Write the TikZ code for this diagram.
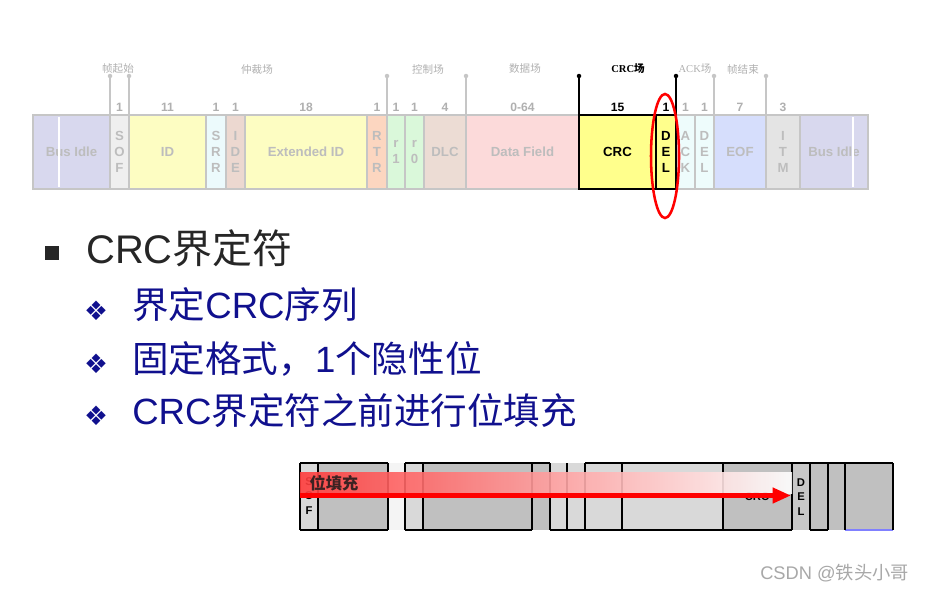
\documentclass[tikz,border=0pt]{standalone}
\usepackage{fontspec}
\setmainfont{Liberation Sans}
\newfontfamily\cjk{Noto Sans CJK SC}
\newfontfamily\symf{DejaVu Sans}
\newfontfamily\lserif{Liberation Serif}
\usetikzlibrary{positioning,shapes.geometric,arrows.meta}

\definecolor{idlec}{HTML}{D8D8EE}
\definecolor{sofc}{HTML}{EFEFEF}
\definecolor{idc}{HTML}{FDFDC2}
\definecolor{srrc}{HTML}{ECFAFC}
\definecolor{idec}{HTML}{ECD8D0}
\definecolor{rtrc}{HTML}{FCD6C0}
\definecolor{rc}{HTML}{DAF8DA}
\definecolor{dlcc}{HTML}{ECDCD4}
\definecolor{datac}{HTML}{FCDADA}
\definecolor{crcc}{HTML}{FFFF8C}
\definecolor{ackc}{HTML}{EEFCFC}
\definecolor{eofc}{HTML}{D6DEFC}
\definecolor{itmc}{HTML}{E4E4E4}
\definecolor{fldline}{HTML}{C6C6C6}
\definecolor{fldtext}{HTML}{BDBDBD}
\definecolor{grpc}{HTML}{B0B0B0}
\definecolor{headc}{HTML}{262626}
\definecolor{navy}{HTML}{10108E}
\definecolor{ltc}{HTML}{D9D9D9}
\definecolor{dkc}{HTML}{C0C0C0}
\definecolor{delc}{HTML}{C8C8C8}
\definecolor{paper}{HTML}{F4F4F4}
\definecolor{bandl}{HTML}{FF3C3C}
\definecolor{wmc}{HTML}{A8A8A8}

\newcommand\pxu{0.025cm}

\begin{document}
\begin{tikzpicture}[x=0.025cm,y=-0.025cm,
  fld/.style={draw=fldline, line width=1.8pt, inner sep=0pt, outer sep=0pt,
    minimum height=74*\pxu, align=center, text=fldtext,
    font=\bfseries\fontsize{9.4}{11.4}\selectfont},
  num/.style={text=grpc, inner sep=0pt, font=\bfseries\fontsize{8.6}{10}\selectfont},
  grp/.style={text=grpc, inner sep=0pt, font=\fontsize{7.5}{9}\selectfont},
  divline/.style={draw=fldline, line width=0.9pt},
  dotnode/.style={circle, fill, inner sep=0pt, minimum size=3.2pt},
  head/.style={text=headc, inner sep=0pt, anchor=base west, font=\fontsize{28.4}{34}\selectfont},
  sub/.style={text=navy, inner sep=0pt, anchor=base west, font=\fontsize{26}{31}\selectfont},
  bul/.style={text=navy, inner sep=0pt, font=\symf\fontsize{19}{21}\selectfont},
  blk/.style={draw=black, line width=1.7pt},
  small/.style={align=center, inner sep=0pt, font=\bfseries\fontsize{8}{10.3}\selectfont}]

\path[fill=white, use as bounding box] (0,0) rectangle (926,592);

% frame fields
\node[fld, fill=idlec, minimum width=77*\pxu] (idleA) at (71.5,152) {Bus Idle};
\node[fld, fill=sofc, minimum width=19*\pxu, right=0pt of idleA] (sof) {S\\O\\F};
\node[fld, fill=idc, minimum width=77*\pxu, right=0pt of sof] (id) {ID};
\node[fld, fill=srrc, minimum width=20*\pxu, right=0pt of id] (srr) {S\\R\\R};
\node[fld, fill=idec, minimum width=19*\pxu, right=0pt of srr] (ide) {I\\D\\E};
\node[fld, fill=idc, minimum width=122*\pxu, right=0pt of ide] (extid) {Extended ID};
\node[fld, fill=rtrc, minimum width=20*\pxu, right=0pt of extid] (rtr) {R\\T\\R};
\node[fld, fill=rc, minimum width=18*\pxu, right=0pt of rtr] (r1) {r\\1};
\node[fld, fill=rc, minimum width=19*\pxu, right=0pt of r1] (r0) {r\\0};
\node[fld, fill=dlcc, minimum width=42*\pxu, right=0pt of r0] (dlc) {DLC};
\node[fld, fill=datac, minimum width=113*\pxu, right=0pt of dlc] (data) {Data Field};
\node[fld, fill=crcc, minimum width=77*\pxu, right=0pt of data, text=black] (crc) {CRC};
\node[fld, fill=crcc, minimum width=20*\pxu, right=0pt of crc, text=black] (del) {D\\E\\L};
\node[fld, fill=ackc, minimum width=19*\pxu, right=0pt of del] (ack) {A\\C\\K};
\node[fld, fill=ackc, minimum width=19*\pxu, right=0pt of ack] (adel) {D\\E\\L};
\node[fld, fill=eofc, minimum width=52*\pxu, right=0pt of adel] (eof) {EOF};
\node[fld, fill=itmc, minimum width=34*\pxu, right=0pt of eof] (itm) {I\\T\\M};
\node[fld, fill=idlec, minimum width=68*\pxu, right=0pt of itm] (idleB) {Bus Idle};
\draw[white, line width=0.8pt] (59,117) -- (59,187) (853,117) -- (853,187);
\draw[blk, line width=1.9pt] (crc.north west) rectangle (crc.south east)
  (del.north west) rectangle (del.south east);

% bit counts
\foreach \f/\n in {sof/1, id/11, srr/1, ide/1, extid/18, rtr/1, r1/1, r0/1,
                   dlc/4, data/0-64, ack/1, adel/1, eof/7, itm/3}
  \node[num, above=2.5pt of \f] (n-\f) {\n};
\node[num, text=black, above=2.5pt of crc] (n-crc) {15};
\node[num, text=black, above=2.5pt of del] (n-del) {1};

% field boundaries
\foreach \p in {sof.north west, sof.north east, r1.north west, data.north west,
                eof.north west, itm.north west}
  \draw[divline] (\p) -- ++(0,-39) node[dotnode, fill=fldline] {};
\foreach \p in {crc.north west, del.north east}
  \draw[divline, draw=black] (\p) -- ++(0,-39) node[dotnode, fill=black] {};

\node[grp] (g-sof) at (118,69) {\cjk 帧起始};
\node[grp] (g-arb) at (257,69) {\cjk 仲裁场};
\node[grp] (g-ctl) at (428,69) {\cjk 控制场};
\node[grp] (g-data) at (525,69) {\cjk 数据场};
\node[grp, text=black] (g-crc) at (628,69) {{\lserif\bfseries CRC}{\cjk\bfseries 场}};
\node[grp] (g-ack) at (695,69) {{\lserif ACK}{\cjk 场}};
\node[grp] (g-eof) at (743,69) {\cjk 帧结束};

\node[draw=red, line width=1.8pt, ellipse, inner sep=0pt,
  minimum width=28*\pxu, minimum height=124*\pxu] (ring) at (665,156) {};

% bullet text
\node[fill=headc, inner sep=0pt, minimum size=14*\pxu] (sq) at (52,253) {};
\node[head] (title) at (86,263) {CRC{\cjk 界定符}};
\node[bul] (b1) at (96,311) {❖};
\node[sub] (s1) at (132,318) {{\cjk 界定}CRC{\cjk 序列}};
\node[bul] (b2) at (96,364) {❖};
\node[sub] (s2) at (132,372) {{\cjk 固定格式，}1{\cjk 个隐性位}};
\node[bul] (b3) at (96,416) {❖};
\node[sub] (s3) at (132,424) {CRC{\cjk 界定符之前进行位填充}};

% bit stream strip
\fill[ltc] (300,463) rectangle (318,530);
\fill[dkc] (318,463) rectangle (388,530);
\fill[paper] (388,463) rectangle (405,530);
\fill[ltc] (405,463) rectangle (423,530);
\fill[dkc] (423,463) rectangle (550,530);
\fill[ltc] (550,463) rectangle (723,530);
\fill[dkc] (723,463) rectangle (792,530);
\fill[delc] (792,463) rectangle (810,530);
\fill[dkc] (810,463) rectangle (893,530);
\draw[blk] (300,463) -- (388,463) (405,463) -- (550,463) (585,463) -- (893,463);
\draw[blk] (300,530) -- (388,530) (405,530) -- (532,530) (550,530) -- (792,530)
  (810,530) -- (828,530);
\draw[draw=blue!50, line width=1.2pt] (845,530) -- (893,530);
\foreach \x in {300,318,388,405,423,532,550,567,585,622,723,792,810,828,845,893}
  \draw[blk] (\x,463) -- (\x,530);
\node[small] (sofb) at (309,496) {S\\O\\F};
\node[small] (crcb) at (757,497) {CRC};
\node[small] (delb) at (801,497) {D\\E\\L};

% stuffing arrow
\shade[left color=bandl, right color=white, opacity=0.9] (300,472) rectangle (792,493);
\coordinate (fa) at (300,495.5);
\coordinate (fb) at (791,495.5);
\draw[red, line width=3.6pt, -{Triangle[length=13pt,width=10.5pt]}] (fa) -- (fb);
\node[inner sep=0pt, text=headc!90!red, font=\cjk\bfseries\fontsize{11.5}{13}\selectfont]
  (stuff) at (334,483) {位填充};

\node[anchor=west, inner sep=0pt, text=wmc, font=\fontsize{13}{15}\selectfont]
  (wm) at (760,573) {CSDN @{\cjk 铁头小哥}};
\end{tikzpicture}
\end{document}
